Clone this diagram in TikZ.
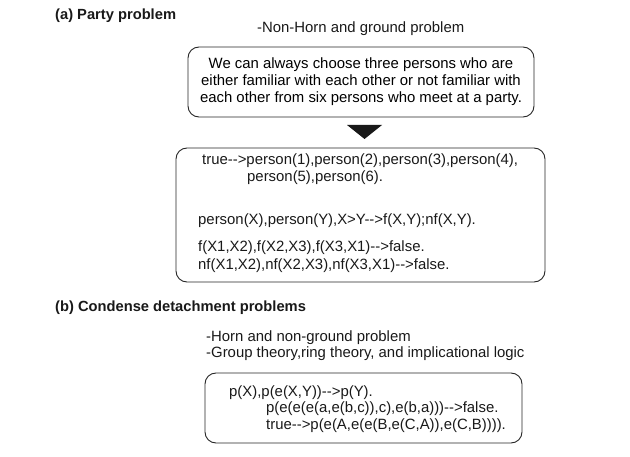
\documentclass[tikz,border=0pt]{standalone}
\usepackage{fontspec}
\setmainfont{Liberation Sans}[Ligatures=TeXOff]
\begin{document}
\begin{tikzpicture}[x=1pt,y=-1pt,line cap=butt,line join=miter,font=\fontsize{14.9}{17}\selectfont,
	box/.style={draw=black!85,line width=.9pt,rounded corners=11pt,inner sep=0pt},
	txt/.style={anchor=base west,inner sep=0pt,text=black!90},
	head/.style={txt,font=\fontsize{14.7}{17}\selectfont\bfseries}]
	\useasboundingbox (0,0) rectangle (630,457);
	\node[head] (headA) at (55,20) {(a) Party problem};
	\node[txt] (nonhorn) at (257,33) {-Non-Horn and ground problem};
	\node[box,minimum width=346pt,minimum height=70pt,align=center] (party) at (361,82)
		{We can always choose three persons who are\\
		either familiar with each other or not familiar with\\
		each other from six persons who meet at a party.};
	\fill[black!90] (347,125) -- (382,125) -- (364.5,139) -- cycle;
	\node[box,minimum width=369pt,minimum height=134pt] (clauses) at (360.5,215) {};
	\node[txt] (c1) at (202,165) {true-->person(1),person(2),person(3),person(4),};
	\node[txt] (c2) at (247,182) {person(5),person(6).};
	\node[txt] (c3) at (198,225) {person(X),person(Y),X>Y-->f(X,Y);nf(X,Y).};
	\node[txt] (c4) at (198,252) {f(X1,X2),f(X2,X3),f(X3,X1)-->false.};
	\node[txt] (c5) at (198,270) {nf(X1,X2),nf(X2,X3),nf(X3,X1)-->false.};
	\node[head] (headB) at (55,312) {(b) Condense detachment problems};
	\node[txt] (horn) at (206,342) {-Horn and non-ground problem};
	\node[txt] (group) at (206,358) {-Group theory,ring theory, and implicational logic};
	\node[box,minimum width=317pt,minimum height=70pt] (condense) at (363.5,408) {};
	\node[txt] (d1) at (229,396) {p(X),p(e(X,Y))-->p(Y).};
	\node[txt] (d2) at (266,413) {p(e(e(e(a,e(b,c)),c),e(b,a)))-->false.};
	\node[txt] (d3) at (266,430) {true-->p(e(A,e(e(B,e(C,A)),e(C,B)))).};
\end{tikzpicture}
\end{document}
